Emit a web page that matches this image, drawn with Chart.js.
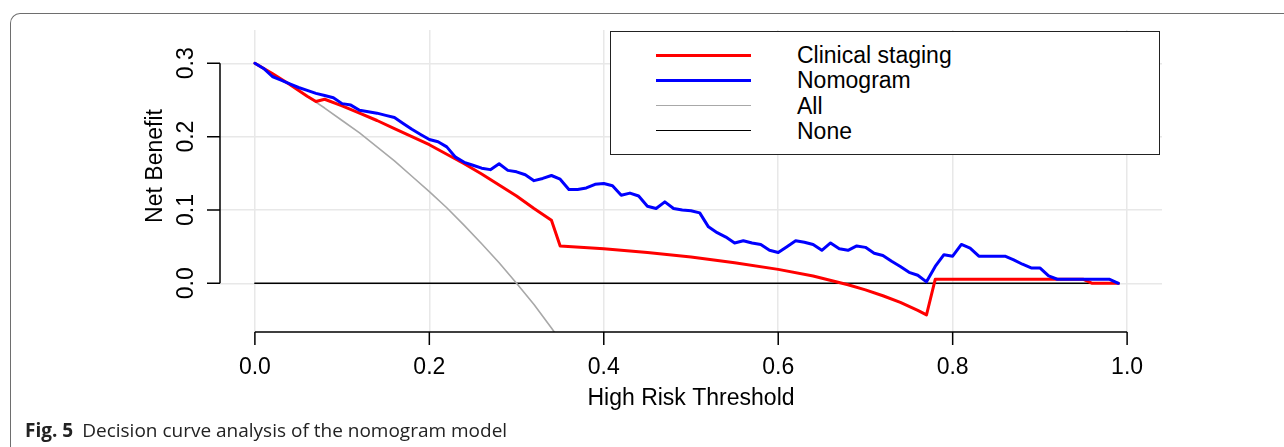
<!DOCTYPE html>
<html>
<head>
<meta charset="utf-8">
<script src="https://cdn.jsdelivr.net/npm/chart.js@4/dist/chart.umd.min.js"></script>
<style>
  body { margin: 0; background: #fff; }
  #page { position: relative; width: 1284px; height: 447px; overflow: hidden; }
  #frame { position: absolute; left: 10px; top: 13px; right: -20px; bottom: -20px;
           border-left: 1.5px solid #6e6e6e; border-top: 1.5px solid #6e6e6e; border-top-left-radius: 10px; }
  #chart { position: absolute; left: 0; top: 0; }
  #legend { position: absolute; left: 610px; top: 31px; width: 548px; height: 122px;
            border: 1.5px solid #222; background: #fff; font-family: "Liberation Sans", Arial, sans-serif; }
  .row { position: absolute; left: 0; width: 100%; height: 25px; }
  .swatch { position: absolute; left: 45px; width: 95px; top: 12px; }
  .txt { position: absolute; left: 186px; top: 0; font-size: 23px; line-height: 25px; color: #000; white-space: nowrap; }
  #caption { position: absolute; left: 25px; top: 421px; font-family: "Open Sans", "Noto Sans", sans-serif;
             font-size: 19px; line-height: 19px; color: #222; white-space: nowrap; }
  #caption b { font-weight: 700; margin-right: 9px; }
</style>
</head>
<body>
<div id="page">
  <div id="frame"></div>
  <canvas id="chart" width="1284" height="447"></canvas>
  <div id="legend"></div>
  <div id="caption"><b>Fig. 5</b>Decision curve analysis of the nomogram model</div>
</div>
<script>
const xTicks = [0, 0.2, 0.4, 0.6, 0.8, 1.0];
const xTickLabels = ["0.0", "0.2", "0.4", "0.6", "0.8", "1.0"];
const yTicks = [0, 0.1, 0.2, 0.3];
const yTickLabels = ["0.0", "0.1", "0.2", "0.3"];

const seriesLabels = ["Clinical staging", "Nomogram", "All", "None"];
const seriesColors = ["#ff0000", "#0000ff", "#a8a8a8", "#000000"];
const seriesWidths = [3, 3, 1.6, 1.6];

// Nomogram
const nomoX = [
  0.00, 0.01, 0.02, 0.03, 0.04, 0.05, 0.06, 0.07, 0.08, 0.09,
  0.10, 0.11, 0.12, 0.13, 0.14, 0.15, 0.16, 0.17, 0.18, 0.19,
  0.20, 0.21, 0.22, 0.23, 0.24, 0.25, 0.26, 0.27, 0.28, 0.29,
  0.30, 0.31, 0.32, 0.33, 0.34, 0.35, 0.36, 0.37, 0.38, 0.39,
  0.40, 0.41, 0.42, 0.43, 0.44, 0.45, 0.46, 0.47, 0.48, 0.49,
  0.50, 0.51, 0.52, 0.53, 0.54, 0.55, 0.56, 0.57, 0.58, 0.59,
  0.60, 0.61, 0.62, 0.63, 0.64, 0.65, 0.66, 0.67, 0.68, 0.69,
  0.70, 0.71, 0.72, 0.73, 0.74, 0.75, 0.76, 0.77, 0.78, 0.79,
  0.80, 0.81, 0.82, 0.83, 0.84, 0.85, 0.86, 0.87, 0.88, 0.89,
  0.90, 0.91, 0.92, 0.93, 0.94, 0.95, 0.96, 0.97, 0.98, 0.99
];
const nomoY = [
  0.300, 0.293, 0.282, 0.277, 0.272, 0.267, 0.263, 0.259, 0.256, 0.253,
  0.245, 0.243, 0.236, 0.234, 0.232, 0.229, 0.226, 0.218, 0.210, 0.203,
  0.196, 0.193, 0.186, 0.172, 0.165, 0.161, 0.157, 0.155, 0.163, 0.154,
  0.152, 0.148, 0.140, 0.143, 0.147, 0.142, 0.128, 0.128, 0.130, 0.135,
  0.136, 0.133, 0.120, 0.123, 0.119, 0.105, 0.102, 0.111, 0.102, 0.100,
  0.099, 0.096, 0.077, 0.069, 0.063, 0.055, 0.058, 0.055, 0.053, 0.045,
  0.042, 0.050, 0.058, 0.056, 0.053, 0.045, 0.055, 0.047, 0.045, 0.051,
  0.049, 0.041, 0.038, 0.030, 0.023, 0.015, 0.011, 0.002, 0.023, 0.039,
  0.037, 0.053, 0.048, 0.037, 0.037, 0.037, 0.037, 0.032, 0.026, 0.021,
  0.021, 0.010, 0.0055, 0.0055, 0.0055, 0.0055, 0.0055, 0.0055, 0.0055, 0.000
];

// Clinical staging
const clinX = [0, 0.02, 0.04, 0.06, 0.07, 0.08, 0.10, 0.12, 0.14, 0.16, 0.18, 0.20, 0.22, 0.24,
  0.26, 0.28, 0.30, 0.32, 0.34, 0.35, 0.40, 0.45, 0.50, 0.55, 0.60, 0.64, 0.68, 0.70, 0.72,
  0.74, 0.76, 0.77, 0.78, 0.95, 0.96, 0.99];
const clinY = [0.300, 0.286, 0.271, 0.255, 0.248, 0.251, 0.242, 0.232, 0.222, 0.211, 0.200, 0.189, 0.176, 0.163,
  0.149, 0.134, 0.119, 0.102, 0.086, 0.051, 0.047, 0.042, 0.036, 0.028, 0.019, 0.010, -0.002, -0.009, -0.017,
  -0.026, -0.037, -0.043, 0.0055, 0.0055, 0.0, 0.0];

// All / None
const allX = [0, 0.02, 0.04, 0.06, 0.08, 0.10, 0.12, 0.14, 0.16, 0.18, 0.20, 0.22, 0.24, 0.26, 0.28, 0.30, 0.32, 0.34, 0.36];
const allY = [0.300, 0.286, 0.271, 0.255, 0.239, 0.222, 0.205, 0.186, 0.167, 0.146, 0.125, 0.103, 0.079, 0.054, 0.028, 0.000, -0.029, -0.061, -0.094];
const noneX = [0, 0.99];
const noneY = [0, 0];

function pts(xs, ys) {
  return xs.map((v, i) => ({ x: v, y: ys[i] }));
}

const font = '"Liberation Sans", Arial, sans-serif';

// base-R style axes: line from first to last tick, outward ticks, vertical y labels
const rAxes = {
  id: "rAxes",
  afterDraw(chart) {
    const { ctx, chartArea, scales } = chart;
    const x = scales.x, y = scales.y;
    ctx.save();
    ctx.strokeStyle = "#000";
    ctx.lineWidth = 1.5;
    ctx.beginPath();
    const yb = chartArea.bottom;
    ctx.moveTo(x.getPixelForValue(xTicks[0]), yb);
    ctx.lineTo(x.getPixelForValue(xTicks[xTicks.length - 1]), yb);
    xTicks.forEach(v => {
      const px = x.getPixelForValue(v);
      ctx.moveTo(px, yb);
      ctx.lineTo(px, yb + 13);
    });
    const xl = chartArea.left;
    ctx.moveTo(xl, y.getPixelForValue(yTicks[0]));
    ctx.lineTo(xl, y.getPixelForValue(yTicks[yTicks.length - 1]));
    yTicks.forEach(v => {
      const py = y.getPixelForValue(v);
      ctx.moveTo(xl, py);
      ctx.lineTo(xl - 13, py);
    });
    ctx.stroke();

    ctx.fillStyle = "#000";
    ctx.font = "23px " + font;
    ctx.textAlign = "center";
    ctx.textBaseline = "alphabetic";
    xTicks.forEach((v, i) => {
      ctx.fillText(xTickLabels[i], x.getPixelForValue(v), 374);
    });
    yTicks.forEach((v, i) => {
      ctx.save();
      ctx.translate(193, y.getPixelForValue(v));
      ctx.rotate(-Math.PI / 2);
      ctx.fillText(yTickLabels[i], 0, 0);
      ctx.restore();
    });
    ctx.fillText("High Risk Threshold", (chartArea.left + chartArea.right) / 2, 405);
    ctx.save();
    ctx.translate(162, 166);
    ctx.rotate(-Math.PI / 2);
    ctx.fillText("Net Benefit", 0, 0);
    ctx.restore();
    ctx.restore();
  }
};

const seriesData = [pts(clinX, clinY), pts(nomoX, nomoY), pts(allX, allY), pts(noneX, noneY)];
const drawOrder = [1, 0, 2, 3];

new Chart(document.getElementById("chart"), {
  type: "line",
  data: {
    datasets: seriesLabels.map((lab, i) => ({
      label: lab,
      data: seriesData[i],
      borderColor: seriesColors[i],
      borderWidth: seriesWidths[i],
      pointRadius: 0,
      tension: 0,
      borderJoinStyle: "round",
      borderCapStyle: "round",
      order: drawOrder[i]
    }))
  },
  options: {
    responsive: false,
    animation: false,
    layout: { padding: { left: 220, top: 30, right: 122, bottom: 115 } },
    plugins: { legend: { display: false }, tooltip: { enabled: false } },
    scales: {
      x: {
        type: "linear", min: -0.04, max: 1.04,
        afterBuildTicks: s => { s.ticks = xTicks.map(v => ({ value: v })); },
        ticks: { display: false },
        grid: { color: "#e8e8e8", lineWidth: 1.5, drawTicks: false },
        border: { display: false }
      },
      y: {
        type: "linear", min: -0.0664, max: 0.3454,
        afterBuildTicks: s => { s.ticks = yTicks.map(v => ({ value: v })); },
        ticks: { display: false },
        grid: { color: "#e8e8e8", lineWidth: 1.5, drawTicks: false },
        border: { display: false }
      }
    }
  },
  plugins: [rAxes]
});

// legend box, R style
const legend = document.getElementById("legend");
seriesLabels.forEach((lab, i) => {
  const row = document.createElement("div");
  row.className = "row";
  row.style.top = (11 + i * 25.3) + "px";
  row.innerHTML = `<div class="swatch" style="border-top:${seriesWidths[i]}px solid ${seriesColors[i]};margin-top:-${seriesWidths[i] / 2}px"></div>
    <div class="txt">${lab}</div>`;
  legend.appendChild(row);
});
</script>
</body>
</html>
